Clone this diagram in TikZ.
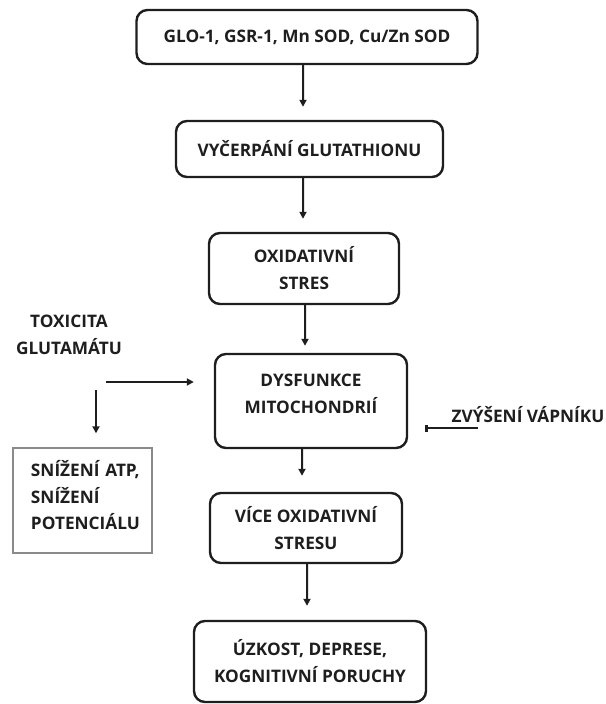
\documentclass[tikz,border=0pt]{standalone}
\usepackage{fontspec}
\setmainfont{Open Sans}
\usetikzlibrary{arrows.meta}
\definecolor{ink}{HTML}{1E1E1E}
\definecolor{grayline}{HTML}{8A8A8A}
\begin{document}
\begin{tikzpicture}[x=1bp,y=-1bp,
  every node/.style={font=\fontsize{17.3}{27}\selectfont\bfseries, text=ink},
  rbox/.style={draw=ink, line width=2.4bp, rounded corners=11bp, align=center, inner sep=0pt},
  gbox/.style={draw=grayline, line width=1.4bp, align=left, inner sep=0pt, text width=127bp},
  arr/.style={draw=ink, line width=2bp, -{Triangle[length=7bp,width=7bp]}},
  bararr/.style={draw=ink, line width=2bp, -{Bar[width=7bp,line width=2.5bp]}},
  plain/.style={align=center, inner sep=0pt}]
\useasboundingbox (0,0) rectangle (606,704);
\node[rbox, minimum width=341bp, minimum height=54bp] (b1) at (307,37) {GLO-1, GSR-1, Mn SOD, Cu/Zn SOD};
\node[rbox, minimum width=267bp, minimum height=56bp] (b2) at (309.5,149) {VYČERPÁNÍ GLUTATHIONU};
\node[rbox, minimum width=190bp, minimum height=71bp] (b3) at (304,268.5) {OXIDATIVNÍ\\STRES};
\node[rbox, minimum width=192bp, minimum height=94bp] (b4) at (311,401) {DYSFUNKCE\\MITOCHONDRIÍ\\[-12bp]\mbox{}};
\node[rbox, minimum width=192bp, minimum height=70bp] (b5) at (306,528) {VÍCE OXIDATIVNÍ\\STRESU};
\node[rbox, minimum width=232bp, minimum height=81bp] (b6) at (310,661.5) {ÚZKOST, DEPRESE,\\KOGNITIVNÍ PORUCHY};
\node[gbox, minimum width=139bp, minimum height=105bp] (lb) at (82.5,500.5) {\hspace*{12bp}SNÍŽENÍ ATP,\\\hspace*{12bp}SNÍŽENÍ\\\hspace*{12bp}POTENCIÁLU\\[-16bp]\mbox{}};
\node[plain] (tox) at (69,335) {TOXICITA\\GLUTAMÁTU};
\node[plain, anchor=base] (ca) at (528,422) {ZVÝŠENÍ VÁPNÍKU};
\coordinate (t1) at (106,382);
\coordinate (t2) at (96,390);
\coordinate (c1) at (478,428);
\draw[arr, shorten >=13bp] ([xshift=-4bp]b1.south) -- ([xshift=-6.5bp]b2.north);
\draw[arr, shorten >=13bp] ([xshift=-6.5bp]b2.south) -- ([xshift=-1bp]b3.north);
\draw[arr, shorten >=7bp] ([xshift=1bp]b3.south) -- ([xshift=-6bp]b4.north);
\draw[arr, shorten >=16bp] ([xshift=-9bp]b4.south) -- ([xshift=-4bp]b5.north);
\draw[arr, shorten >=14bp] ([xshift=1bp]b5.south) -- ([xshift=-3bp]b6.north);
\draw[arr, shorten >=20bp] (t1) -- (b4.west |- t1);
\draw[arr, shorten >=14bp] (t2) -- (lb.north -| t2);
\draw[bararr, shorten >=17bp] (c1) -- (b4.east |- c1);
\end{tikzpicture}
\end{document}
